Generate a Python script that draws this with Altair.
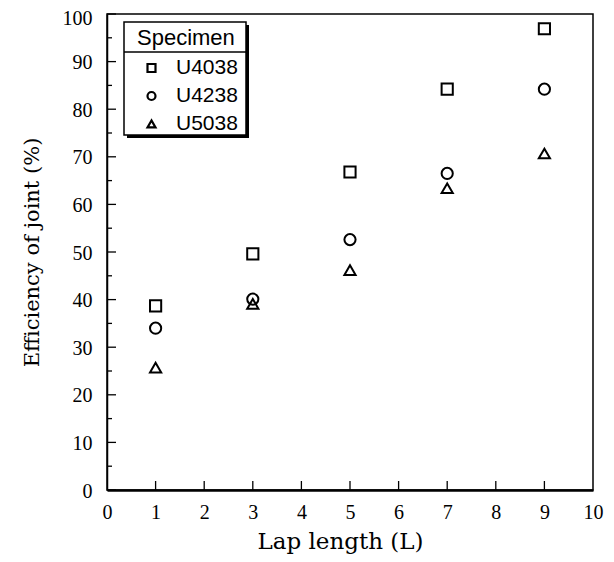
import altair as alt
import pandas as pd

# ---- data ----
lap = [1, 3, 5, 7, 9]
specimens = ["U4038", "U4238", "U5038"]
u4038 = [38.7, 49.6, 66.8, 84.2, 96.9]
u4238 = [34.0, 40.1, 52.6, 66.5, 84.2]
u5038 = [25.7, 39.1, 46.2, 63.4, 70.7]
shapes = ["square", "circle", "triangle-up"]
x_ticks = list(range(0, 11))
x_inner_ticks = list(range(1, 10))
y_ticks = list(range(0, 101, 10))
y_minor = list(range(5, 100, 10))

rows = []
for name, vals in zip(specimens, [u4038, u4238, u5038]):
    for x, v in zip(lap, vals):
        rows.append({"lap": x, "eff": v, "specimen": name})
df = pd.DataFrame(rows)

W, H = 486, 476
xscale = alt.Scale(domain=[0, 10], nice=False, zero=False)
yscale = alt.Scale(domain=[0, 100], nice=False)

serif = "Liberation Serif"
title_font = "DejaVu Serif"
sans = "Liberation Sans"

x_axis = alt.Axis(values=x_ticks, ticks=False, grid=False, labelFont=serif, labelFontSize=20,
                  labelColor="black", labelPadding=12, labelFlush=False,
                  title="Lap length (L)", titleFont=title_font, titleFontSize=23,
                  titleFontWeight="normal", titleColor="black", titlePadding=8,
                  titleX=233, domainColor="black", domainWidth=2.5)
y_axis = alt.Axis(values=y_ticks, ticks=False, grid=False, labelFont=serif, labelFontSize=20,
                  labelColor="black", labelPadding=15, labelFlush=False,
                  labelOffset={"condition": {"test": "datum.value == 100", "value": 4}, "value": 1},
                  title="Efficiency of joint (%)", titleFont=title_font, titleFontSize=21,
                  titleFontWeight="normal", titleColor="#000000", titlePadding=20,
                  domainColor="black", domainWidth=1.5)

legend = alt.Legend(orient="none", legendX=30, legendY=13.5, title="Specimen",
                    titleFont=sans, titleFontSize=22, titleFontWeight="normal",
                    titleColor="black", titlePadding=8, labelFont=sans, labelFontSize=21,
                    labelColor="black", symbolSize=64, symbolStrokeWidth=2.2,
                    symbolStrokeColor="black", symbolOffset=4, labelOffset=14,
                    rowPadding=6, padding=0)

points = alt.Chart(df).mark_point(filled=False, color="black", strokeWidth=2,
                                  opacity=1, size=125).encode(
    x=alt.X("lap:Q", scale=xscale, axis=x_axis),
    y=alt.Y("eff:Q", scale=yscale, axis=y_axis),
    shape=alt.Shape("specimen:N", scale=alt.Scale(domain=specimens, range=shapes),
                    legend=legend),
)

# inward ticks
ymaj = alt.Chart(pd.DataFrame({"eff": y_ticks})).mark_rule(color="black", strokeWidth=1.3).encode(
    y=alt.Y("eff:Q", scale=yscale), x=alt.value(0), x2=alt.value(9))
ymin = alt.Chart(pd.DataFrame({"eff": y_minor})).mark_rule(color="black", strokeWidth=1.3).encode(
    y=alt.Y("eff:Q", scale=yscale), x=alt.value(0), x2=alt.value(5))
xt = alt.Chart(pd.DataFrame({"lap": x_inner_ticks})).mark_rule(color="black", strokeWidth=1.3).encode(
    x=alt.X("lap:Q", scale=xscale), y=alt.value(H), y2=alt.value(H - 9))

# legend frame decorations
dummy = pd.DataFrame({"a": [0]})
shadow = alt.Chart(dummy).mark_rect(color="black").encode(
    x=alt.value(20), x2=alt.value(142), y=alt.value(11), y2=alt.value(124))
box = alt.Chart(dummy).mark_rect(fill="white", stroke="black", strokeWidth=1.5).encode(
    x=alt.value(17), x2=alt.value(139), y=alt.value(8), y2=alt.value(121))
sep = alt.Chart(dummy).mark_rule(color="black", strokeWidth=1.3).encode(
    x=alt.value(17), x2=alt.value(139), y=alt.value(38))

chart = alt.layer(ymaj, ymin, xt, shadow, box, sep, points).properties(
    width=W, height=H,
    autosize=alt.AutoSizeParams(type="none"),
    padding={"left": 99, "top": 6, "right": 13, "bottom": 64},
    background="white",
).configure_view(stroke="black", strokeWidth=1.5)

chart.save("out.html", embed_options={"renderer": "svg", "actions": False})
